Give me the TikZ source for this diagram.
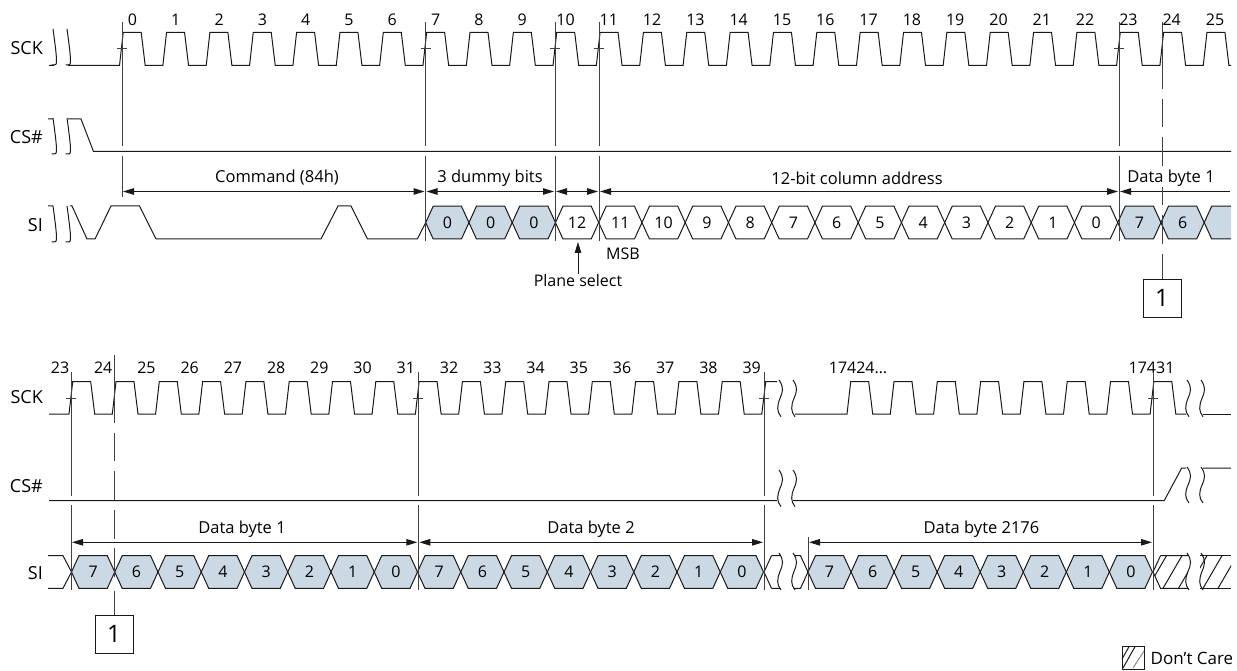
\documentclass[tikz,border=0pt]{standalone}
\usepackage{fontspec}
\setmainfont{Open Sans}
\usetikzlibrary{arrows.meta}
\definecolor{bitblue}{HTML}{CBD9E5}
\newcommand{\hexcell}[6]{
    \draw[sig line,fill=#4] (#1,#3) -- (#1+7.5,#3-16.4) -- (#1+#2-7.5,#3-16.4) -- (#1+#2,#3) -- (#1+#2-7.5,#3+16.4) -- (#1+7.5,#3+16.4) -- cycle;
    \node[bit node] (#6) at (#1+#2/2,#3) {#5};
}
\newcommand{\breakmark}[3]{
    \draw[sig line] (#1+2,#2) .. controls (#1+7,#2+0.2*#3-0.2*#2) and (#1+6,#2+0.3*#3-0.3*#2) .. (#1+3,#2+0.5*#3-0.5*#2) .. controls (#1,#2+0.7*#3-0.7*#2) and (#1-0.5,#2+0.85*#3-0.85*#2) .. (#1+4,#3);
}
\begin{document}
\begin{tikzpicture}[x=1pt,y=-1pt,>={Triangle[length=11pt,width=6.5pt]},
    sig line/.style={line width=1pt,draw=black!90},
    mark line/.style={line width=1pt,draw=black!75},
    dim line/.style={<->,line width=1pt,draw=black!90,shorten <=1pt,shorten >=1pt},
    dash line/.style={line width=1pt,draw=black!75},
    sig node/.style={anchor=east,inner sep=0pt,font=\fontsize{18}{20}\selectfont},
    num node/.style={inner sep=0pt,font=\fontsize{16}{18}\selectfont},
    bit node/.style={inner sep=0pt,font=\fontsize{16}{18}\selectfont},
    dim node/.style={inner sep=1pt,fill=white,font=\fontsize{16.5}{18}\selectfont},
    key node/.style={draw=black!90,line width=1pt,minimum size=38pt,inner sep=0pt,font=\fontsize{24}{26}\selectfont}]
    \useasboundingbox (0,0) rectangle (1237,671);
    \clip (0,0) rectangle (1231,671);

    \node[sig node] (sck1) at (43,48) {SCK};
    \node[sig node] (cs1) at (43,137) {CS\#};
    \node[sig node] (si1) at (43,225) {SI};
    \node[sig node] (sck2) at (43,397) {SCK};
    \node[sig node] (cs2) at (43,486) {CS\#};
    \node[sig node] (si2) at (43,573) {SI};

    \foreach \i in {0,...,25} \node[num node] (n\i) at (132.5+43.3*\i,20) {\i};
    \foreach \i in {23,...,39} \node[num node] (m\i) at (60+43.23*\i-994.29,368) {\i};
    \node[num node] (m17424) at (858,368) {17424\ldots};
    \node[num node] (m17431) at (1151.5,368) {17431};

    \draw[sig line] (49,65.5) -- (54,65.5) (68,65.5) -- (119.5,65.5) \foreach \k in {0,...,25} { -- ++(3.7,-33) -- ++(18,0) -- ++(4,33) -- ++(17.65,0)};
    \draw[sig line] (48,119) -- (53,119) (68,119) -- (81,119) -- (93.5,151.5) -- (1231,151.5);
    \draw[sig line] (48,206) -- (53,206) (70,206) -- (72,206) -- (87,239) -- (95,239) -- (111,206) -- (139.5,206) -- (156,239) -- (321,239) -- (338,206) -- (351,206) -- (367.5,239) -- (417.3,239) -- (425.7,222.6);
    \foreach \y in {29,118,206} {
        \breakmark{51}{\y}{\y+36}
        \breakmark{65}{\y}{\y+36}
    }

    \foreach \t [count=\k from 0] in {0,0,0} \hexcell{425.7+43.25*\k}{43.25}{222.6}{bitblue}{\t}{a\k};
    \foreach \t [count=\k from 3] in {12,11,10,9,8,7,6,5,4,3,2,1,0} \hexcell{425.7+43.25*\k}{43.25}{222.6}{white}{\t}{a\k};
    \foreach \t [count=\k from 16] in {7,6,{}} \hexcell{425.7+43.25*\k}{43.25}{222.6}{bitblue}{\t}{a\k};

    \foreach \x/\n in {425.5/t7,555/t10,599/t11,1119/t23} {
        \coordinate (\n) at (\x,191.5);
        \draw[mark line] (\x,22) -- (\x,146) (\x,156) -- (\x,241) (\x-5,49) -- (\x+5,49);
    }
    \coordinate (t0) at (122,191.5);
    \coordinate (t25) at (1231,191.5);
    \draw[mark line] (122,22) -- (122,146) (122,156) -- (122,197) (117,49) -- (127,49);
    \path (t0) edge[dim line] (t7) (t7) edge[dim line] (t10) (t10) edge[dim line] (t11) (t11) edge[dim line] (t23);
    \draw[dim line,<-] (t23) -- (t25);
    \node[dim node] (d1) at (277,178) {Command (84h)};
    \node[dim node] (d2) at (490,178) {3 dummy bits};
    \node[dim node] (d3) at (857,178) {12-bit column address};
    \node[key node] (k1) at (1162,298) {1};
    \draw[dash line,dash pattern=on 67pt off 10pt on 28pt off 10pt on 29pt off 10pt on 29pt off 10pt on 29pt off 10pt on 29pt off 10pt on 26pt] (1162,22) -- (k1);
    \node[dim node] (d4) at (1171,178) {Data byte 1};

    \coordinate (p1) at (578,241);
    \node[inner sep=0pt,font=\fontsize{16}{18}\selectfont] (p2) at (578,281) {Plane select};
    \node[inner sep=0pt,font=\fontsize{16}{18}\selectfont] (p3) at (623,254) {MSB};
    \draw[dim line,<-] (p1) -- (p2);

    \draw[sig line] (49,414) -- (69,414) \foreach \k in {0,...,15} { -- ++(3.7,-32.3) -- ++(18,0) -- ++(4,32.3) -- ++(17.6,0)} -- (765.7,381.7) -- (777,381.7);
    \draw[sig line] (795,414) -- (847,414) \foreach \k in {0,...,6} { -- ++(3.7,-32.3) -- ++(18,0) -- ++(4,32.3) -- ++(17.6,0)} -- ++(3.7,-32.3) -- ++(18,0) -- ++(4,32.3) -- (1186,414);
    \draw[sig line] (1203,414) -- (1231,414);
    \draw[sig line] (49,500.5) -- (777,500.5) (793,500.5) -- (1164.3,500.5) -- (1181.7,468) -- (1186,468) (1203,468) -- (1231,468);
    \draw[sig line] (48,555.7) -- (63,555.7) -- (71.5,572) -- (63,588.3) -- (48,588.3);
    \foreach \t [count=\k from 0] in {7,6,5,4,3,2,1,0,7,6,5,4,3,2,1,0} \hexcell{71.5+43.25*\k}{43.25}{572}{bitblue}{\t}{b\k};
    \draw[sig line] (771.5,555.7) -- (764,572) -- (771.5,588.3) (771.5,555.7) -- (780,555.7) (771.5,588.3) -- (780,588.3);
    \draw[sig line] (794,555.7) -- (800.5,555.7) -- (808,572) -- (800.5,588.3) -- (794,588.3);
    \foreach \t [count=\k from 0] in {7,6,5,4,3,2,1,0} \hexcell{808+43.05*\k}{43.05}{572}{bitblue}{\t}{c\k};

    \begin{scope}
        \clip (1153,572) -- (1160.5,555.7) -- (1188,555.7) -- (1188,588.3) -- (1160.5,588.3) -- cycle;
        \foreach \x in {1147.5,1163,1178.5} \draw[sig line] (\x,588.3) -- ++(19,-32.6);
    \end{scope}
    \begin{scope}
        \clip (1200,555.7) rectangle (1231,588.3);
        \foreach \x in {1188,1203,1218} \draw[sig line] (\x,588.3) -- ++(19,-32.6);
    \end{scope}
    \draw[sig line] (1160.5,555.7) -- (1153,572) -- (1160.5,588.3) -- (1188,588.3) (1160.5,555.7) -- (1188,555.7);
    \draw[sig line] (1200,555.7) -- (1231,555.7) (1200,588.3) -- (1231,588.3);

    \foreach \x in {777,791} {
        \breakmark{\x}{380}{416.7}
        \breakmark{\x}{470}{506.7}
        \breakmark{\x}{553}{590}
    }
    \foreach \x in {1185,1199} {
        \breakmark{\x}{380}{416.7}
        \breakmark{\x}{467}{503}
        \breakmark{\x}{553}{590}
    }

    \foreach \x/\n in {71/s23,418.3/s31,764/s39,1153/s17431} {
        \coordinate (\n) at (\x,542.3);
        \draw[mark line] (\x,372) -- (\x,496) (\x,505) -- (\x,590) (\x-5,398) -- (\x+5,398);
    }
    \coordinate (s17424) at (808,542.3);
    \draw[mark line] (808,536.7) -- (808,590);
    \path (s23) edge[dim line] (s31) (s31) edge[dim line] (s39) (s17424) edge[dim line] (s17431);
    \node[dim node] (e1) at (242,529) {Data byte 1};
    \node[dim node] (e2) at (591,529) {Data byte 2};
    \node[dim node] (e3) at (981.5,529) {Data byte 2176};
    \node[key node] (k2) at (114,634) {1};
    \draw[dash line,dash pattern=on 67.7pt off 10pt on 28pt off 10pt on 29pt off 10pt on 29pt off 9pt on 29pt off 14pt on 24pt] (114,355) -- (k2);

    \draw[sig line] (1122,646.7) rectangle (1144,669);
    \draw[sig line] (1122,659) -- (1129,646.7) (1123,668) -- (1135,646.7);
    \draw[line width=1pt,draw=black!45] (1133,668) -- (1144,651);
    \node[anchor=west,inner sep=0pt,font=\fontsize{17}{18}\selectfont] (dc) at (1150.5,658) {Don’t Care};
\end{tikzpicture}
\end{document}
